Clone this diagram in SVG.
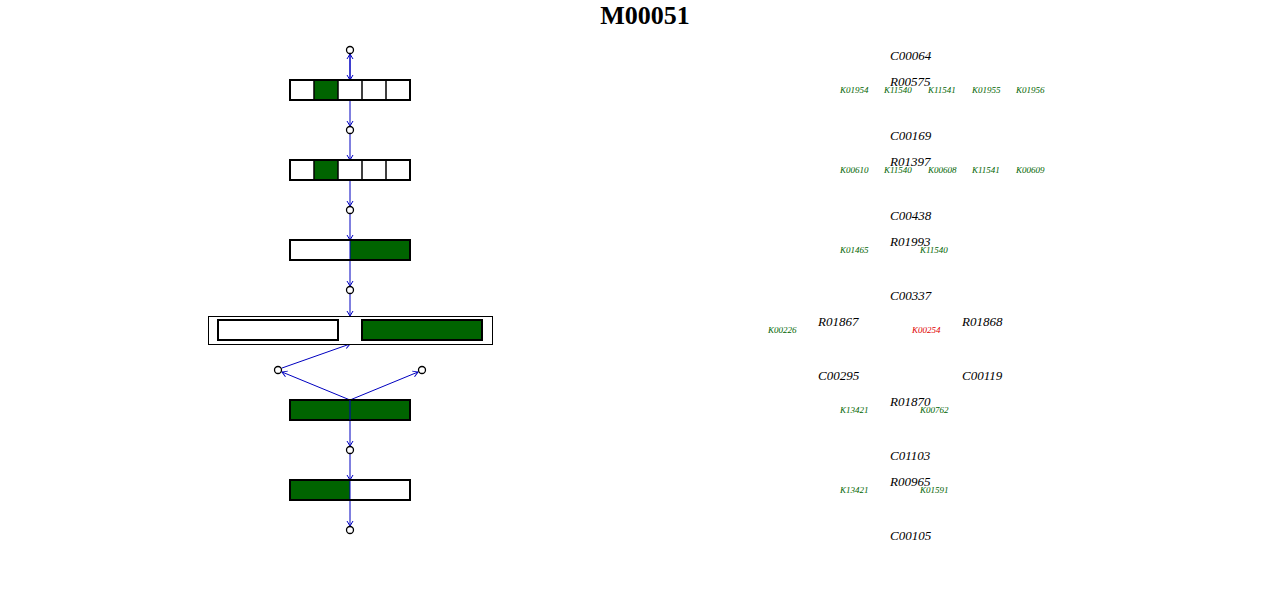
<svg xmlns="http://www.w3.org/2000/svg" width="1280" height="600" viewBox="0 0 1280 600">
<defs>
<style>
.bx{fill:#fff;stroke:#000;stroke-width:2}
.g{fill:#006400}
.o{fill:#fff;stroke:#000;stroke-width:1}
.c{fill:#fff;stroke:#000;stroke-width:1.3}
.ln{stroke:#0000c0;stroke-width:1;fill:none;marker-end:url(#ah)}
.t{font-family:"Liberation Serif",serif;font-style:italic;font-size:13px;fill:#000}
.k{font-family:"Liberation Serif",serif;font-style:italic;font-size:9px;fill:#006400}
.kr{fill:#e00000}
</style>
<marker id="ah" viewBox="-6 -4 7 8" markerWidth="7" markerHeight="8" refX="0" refY="0" orient="auto" markerUnits="userSpaceOnUse">
<path d="M-5,-3 L0,0 L-5,3" fill="none" stroke="#0000c0" stroke-width="1"/>
</marker>
</defs>
<rect width="1280" height="600" fill="#fff"/>
<text x="645" y="24" text-anchor="middle" font-family="Liberation Serif,serif" font-weight="bold" font-size="26">M00051</text>

<g id="connectors">
<line class="ln" x1="350" y1="54" x2="350" y2="80"/>
<line class="ln" x1="350" y1="80" x2="350" y2="54"/>
<line class="ln" x1="350" y1="100" x2="350" y2="126"/>
<line class="ln" x1="350" y1="134" x2="350" y2="160"/>
<line class="ln" x1="350" y1="180" x2="350" y2="206"/>
<line class="ln" x1="350" y1="214" x2="350" y2="240"/>
<line class="ln" x1="350" y1="260" x2="350" y2="286"/>
<line class="ln" x1="350" y1="294" x2="350" y2="316"/>
<line class="ln" x1="282" y1="368" x2="350" y2="344"/>
<line class="ln" x1="350" y1="400" x2="282" y2="372"/>
<line class="ln" x1="350" y1="400" x2="418" y2="372"/>
<line class="ln" x1="350" y1="420" x2="350" y2="446"/>
<line class="ln" x1="350" y1="454" x2="350" y2="480"/>
<line class="ln" x1="350" y1="500" x2="350" y2="526"/>
</g>

<g id="row1">
<rect class="bx" x="290" y="80" width="120" height="20"/>
<rect class="g" x="314" y="80" width="24" height="20"/>
<path d="M314,80V100M338,80V100M362,80V100M386,80V100" stroke="#000" stroke-width="1.5"/>
<rect x="290" y="80" width="120" height="20" fill="none" stroke="#000" stroke-width="2"/>
</g>
<g id="row2">
<rect class="bx" x="290" y="160" width="120" height="20"/>
<rect class="g" x="314" y="160" width="24" height="20"/>
<path d="M314,160V180M338,160V180M362,160V180M386,160V180" stroke="#000" stroke-width="1.5"/>
<rect x="290" y="160" width="120" height="20" fill="none" stroke="#000" stroke-width="2"/>
</g>
<g id="row3">
<rect class="bx" x="290" y="240" width="120" height="20"/>
<rect class="g" x="350" y="240" width="60" height="20"/>
<line x1="350" y1="240" x2="350" y2="260" stroke="#0000c0"/>
<rect x="290" y="240" width="120" height="20" fill="none" stroke="#000" stroke-width="2"/>
</g>
<g id="row4">
<rect class="o" x="208.5" y="316.5" width="284" height="28"/>
<rect class="bx" x="218" y="320" width="120" height="20"/>
<rect class="bx" x="362" y="320" width="120" height="20" style="fill:#006400"/>
</g>
<g id="row5">
<rect class="bx" x="290" y="400" width="120" height="20" style="fill:#006400"/>
<line x1="350" y1="400" x2="350" y2="420" stroke="#0000c0"/>
</g>
<g id="row6">
<rect class="bx" x="290" y="480" width="120" height="20"/>
<rect class="g" x="290" y="480" width="60" height="20"/>
<line x1="350" y1="480" x2="350" y2="500" stroke="#0000c0"/>
<rect x="290" y="480" width="120" height="20" fill="none" stroke="#000" stroke-width="2"/>
</g>

<g id="compounds">
<circle class="c" cx="350" cy="50" r="3.5"/>
<circle class="c" cx="350" cy="130" r="3.5"/>
<circle class="c" cx="350" cy="210" r="3.5"/>
<circle class="c" cx="350" cy="290" r="3.5"/>
<circle class="c" cx="278" cy="370" r="3.5"/>
<circle class="c" cx="422" cy="370" r="3.5"/>
<circle class="c" cx="350" cy="450" r="3.5"/>
<circle class="c" cx="350" cy="530" r="3.5"/>
</g>

<g id="labels">
<text class="t" x="890" y="60">C00064</text>
<text class="t" x="890" y="86">R00575</text>
<text class="k" x="840" y="93">K01954</text>
<text class="k" x="884" y="93">K11540</text>
<text class="k" x="928" y="93">K11541</text>
<text class="k" x="972" y="93">K01955</text>
<text class="k" x="1016" y="93">K01956</text>
<text class="t" x="890" y="140">C00169</text>
<text class="t" x="890" y="166">R01397</text>
<text class="k" x="840" y="173">K00610</text>
<text class="k" x="884" y="173">K11540</text>
<text class="k" x="928" y="173">K00608</text>
<text class="k" x="972" y="173">K11541</text>
<text class="k" x="1016" y="173">K00609</text>
<text class="t" x="890" y="220">C00438</text>
<text class="t" x="890" y="246">R01993</text>
<text class="k" x="840" y="253">K01465</text>
<text class="k" x="920" y="253">K11540</text>
<text class="t" x="890" y="300">C00337</text>
<text class="t" x="818" y="326">R01867</text>
<text class="t" x="962" y="326">R01868</text>
<text class="k" x="768" y="333">K00226</text>
<text class="k kr" x="912" y="333">K00254</text>
<text class="t" x="818" y="380">C00295</text>
<text class="t" x="962" y="380">C00119</text>
<text class="t" x="890" y="406">R01870</text>
<text class="k" x="840" y="413">K13421</text>
<text class="k" x="920" y="413">K00762</text>
<text class="t" x="890" y="460">C01103</text>
<text class="t" x="890" y="486">R00965</text>
<text class="k" x="840" y="493">K13421</text>
<text class="k" x="920" y="493">K01591</text>
<text class="t" x="890" y="540">C00105</text>
</g>
</svg>
